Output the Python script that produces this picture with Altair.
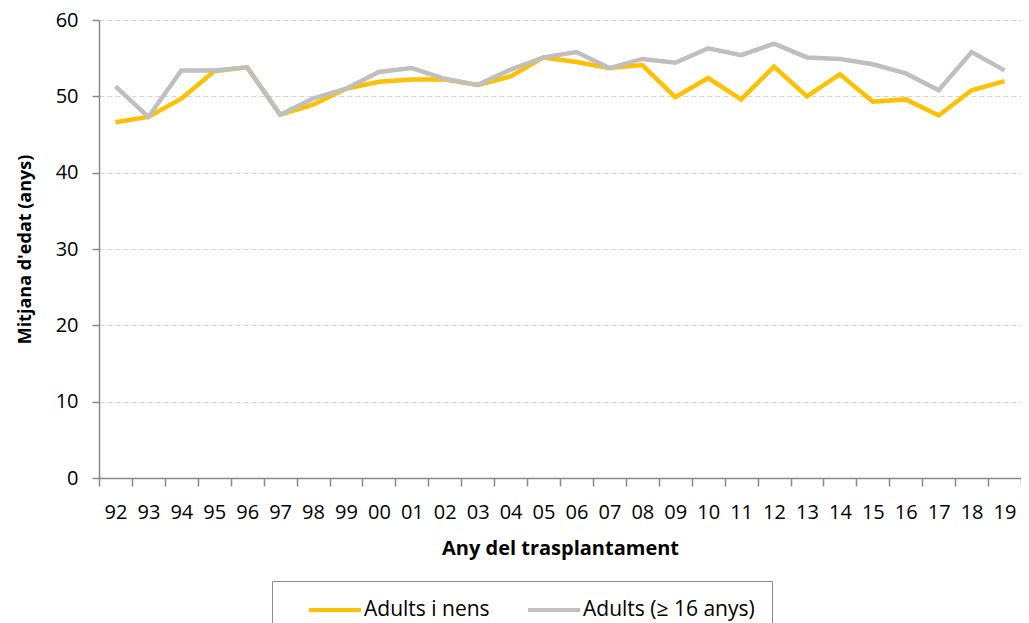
import altair as alt
import pandas as pd

years = ["92", "93", "94", "95", "96", "97", "98", "99", "00", "01", "02", "03", "04", "05",
         "06", "07", "08", "09", "10", "11", "12", "13", "14", "15", "16", "17", "18", "19"]
adults_nens = [46.6, 47.3, 49.7, 53.3, 53.8, 47.6, 48.9, 51.0, 51.9, 52.2, 52.2, 51.5, 52.6, 55.1,
               54.5, 53.7, 54.1, 49.9, 52.4, 49.6, 53.9, 50.0, 52.9, 49.3, 49.6, 47.5, 50.8, 52.0]
adults_16 = [51.3, 47.3, 53.4, 53.4, 53.8, 47.6, 49.7, 51.0, 53.2, 53.7, 52.3, 51.5, 53.5, 55.1,
             55.8, 53.7, 54.9, 54.4, 56.3, 55.4, 56.9, 55.1, 54.9, 54.2, 53.0, 50.8, 55.8, 53.4]
series_names = ["Adults i nens", "Adults (\u2265 16 anys)"]
series_colors = ["#FFC000", "#BFBFBF"]

rows = []
for k, (name, vals) in enumerate(zip(series_names, [adults_nens, adults_16])):
    for yr, v in zip(years, vals):
        rows.append({"any": yr, "valor": v, "serie": name, "ordre": k})
df = pd.DataFrame(rows)

FONT = "Open Sans"
AXIS_GREY = "#898989"

chart = alt.Chart(df).mark_line(strokeWidth=4.5, strokeJoin="miter").encode(
    x=alt.X("any:N", sort=years,
            scale=alt.Scale(type="band", paddingInner=0, paddingOuter=0),
            axis=alt.Axis(title="Any del trasplantament", labelAngle=0, tickBand="extent",
                          grid=False, ticks=True, tickSize=8, tickColor=AXIS_GREY,
                          domainColor=AXIS_GREY, domainWidth=1.5, tickWidth=1.5,
                          labelFontSize=20, labelPadding=16, labelColor="#000",
                          titleFontSize=20, titleFontWeight="bold", titlePadding=16,
                          titleColor="#000", labelFont=FONT, titleFont=FONT)),
    y=alt.Y("valor:Q",
            scale=alt.Scale(domain=[0, 60], nice=False),
            axis=alt.Axis(title="Mitjana d'edat (anys)", values=[0, 10, 20, 30, 40, 50, 60],
                          grid=True, gridDash=[5, 3], gridColor="#D4D4D4", gridWidth=1.2,
                          tickSize=7, tickColor=AXIS_GREY, domainColor=AXIS_GREY,
                          domainWidth=1.5, tickWidth=1.5,
                          labelFontSize=20, labelPadding=14, labelColor="#000",
                          titleFontSize=18, titleFontWeight="bold", titlePadding=21,
                          titleColor="#000", labelFont=FONT, titleFont=FONT)),
    color=alt.Color("serie:N",
                    scale=alt.Scale(domain=series_names, range=series_colors),
                    legend=alt.Legend(title=None, orient="none", legendX=173, legendY=561,
                                      direction="horizontal", symbolType="M-2.6,0H2.6",
                                      symbolStrokeWidth=4, symbolSize=400, symbolOffset=34,
                                      labelFontSize=21, labelFont=FONT, labelColor="#000",
                                      labelOffset=17, labelLimit=400, columnPadding=18,
                                      strokeColor="#8C8C8C", padding=17)),
    order=alt.Order("ordre:Q"),
).properties(
    width=922, height=458,
    autosize=alt.AutoSizeParams(type="none"),
    padding={"left": 91, "top": 12, "right": 0, "bottom": 150},
).configure_view(stroke=None)

chart.save("out.html", embed_options={"renderer": "svg", "actions": False})
